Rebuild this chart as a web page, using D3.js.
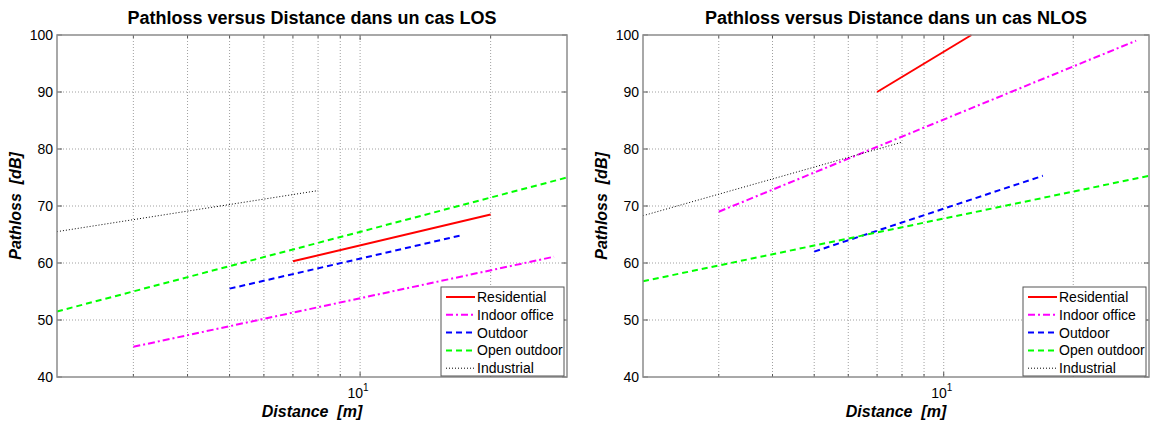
<!DOCTYPE html>
<html>
<head>
<meta charset="utf-8">
<script src="https://cdn.jsdelivr.net/npm/d3@7"></script>
<style>
  body { margin: 0; background: #fff; }
  svg { font-family: "Liberation Sans", Arial, sans-serif; }
</style>
</head>
<body>
<script>
const width = 1150;
const height = 425;

// chart values
const categories = ["Residential", "Indoor office", "Outdoor", "Open outdoor", "Industrial"];
const distStart = [7, 3, 5, 2, 2];
const distEnd = [20, 28, 17, 30, 8];
const losStart = [60.3, 45.3, 55.5, 51.5, 65.5];
const losEnd = [68.5, 61.1, 64.8, 75.0, 72.7];
// NLOS residential leaves the plot at the top, last visible point
const nlosDistEnd = [11.6, 28, 17, 30, 8];
const nlosStart = [90.0, 69.0, 62.0, 56.8, 68.3];
const nlosEnd = [100.0, 99.0, 75.3, 75.3, 81.2];

const yTicks = [40, 50, 60, 70, 80, 90, 100];
const xMinor = [3, 4, 5, 6, 7, 8, 9, 10, 20];

const colors = ["#ff0000", "#ff00ff", "#0000ff", "#00ff00", "#000000"];
const dashes = [null, "7,3,2,3", "6,4", "6,4", "1,2"];
const widths = [2, 2, 2, 2, 1];

const panels = [
  {title: "Pathloss versus Distance dans un cas LOS", x0: 57, x1: 567,
   start: losStart, end: losEnd, dEnd: distEnd},
  {title: "Pathloss versus Distance dans un cas NLOS", x0: 643, x1: 1149,
   start: nlosStart, end: nlosEnd, dEnd: nlosDistEnd}
];

const yTop = 35, yBottom = 377;

const svg = d3.select("body").append("svg")
  .attr("width", width)
  .attr("height", height);

panels.forEach((p, pi) => {
  const x = d3.scaleLog().domain([2, 30]).range([p.x0, p.x1]);
  const y = d3.scaleLinear().domain([40, 100]).range([yBottom, yTop]);
  const g = svg.append("g");

  // grid
  g.selectAll(".vgrid").data(xMinor).enter().append("line")
    .attr("x1", d => x(d)).attr("x2", d => x(d))
    .attr("y1", yTop).attr("y2", yBottom)
    .attr("stroke", "#a0a0a0").attr("stroke-width", 1)
    .attr("stroke-dasharray", "1,2");
  g.selectAll(".hgrid").data(yTicks.slice(1, -1)).enter().append("line")
    .attr("x1", p.x0).attr("x2", p.x1)
    .attr("y1", d => y(d)).attr("y2", d => y(d))
    .attr("stroke", "#a0a0a0").attr("stroke-width", 1)
    .attr("stroke-dasharray", "1,2");

  // tick marks, both sides
  yTicks.forEach(t => {
    g.append("line").attr("x1", p.x0).attr("x2", p.x0 + 5)
      .attr("y1", y(t)).attr("y2", y(t)).attr("stroke", "#555");
    g.append("line").attr("x1", p.x1).attr("x2", p.x1 - 5)
      .attr("y1", y(t)).attr("y2", y(t)).attr("stroke", "#555");
  });
  xMinor.forEach(t => {
    const len = t === 10 ? 5 : 3;
    g.append("line").attr("x1", x(t)).attr("x2", x(t))
      .attr("y1", yBottom).attr("y2", yBottom - len).attr("stroke", "#555");
    g.append("line").attr("x1", x(t)).attr("x2", x(t))
      .attr("y1", yTop).attr("y2", yTop + len).attr("stroke", "#555");
  });

  // data lines
  const line = d3.line().x(d => x(d[0])).y(d => y(d[1]));
  categories.forEach((c, i) => {
    g.append("path")
      .datum([[distStart[i], p.start[i]], [p.dEnd[i], p.end[i]]])
      .attr("d", line)
      .attr("fill", "none")
      .attr("stroke", colors[i])
      .attr("stroke-width", widths[i])
      .attr("stroke-dasharray", dashes[i]);
  });

  // axes box
  g.append("rect")
    .attr("x", p.x0).attr("y", yTop)
    .attr("width", p.x1 - p.x0).attr("height", yBottom - yTop)
    .attr("fill", "none").attr("stroke", "#8c8c8c").attr("stroke-width", 1.5);

  // y tick labels
  g.selectAll(".ylab").data(yTicks).enter().append("text")
    .attr("x", p.x0 - 4).attr("y", d => y(d) + 5)
    .attr("text-anchor", "end").attr("font-size", 14)
    .text(d => d);

  // x tick label 10^1
  const xl = g.append("text").attr("x", x(10) - 2).attr("y", 398)
    .attr("text-anchor", "middle").attr("font-size", 14);
  xl.append("tspan").text("10");
  xl.append("tspan").attr("dy", -7).attr("font-size", 10).text("1");

  const cx = (p.x0 + p.x1) / 2;
  g.append("text").attr("x", cx).attr("y", 24)
    .attr("text-anchor", "middle").attr("font-size", 18).attr("font-weight", "bold")
    .text(p.title);
  g.append("text").attr("x", cx).attr("y", 417)
    .attr("text-anchor", "middle").attr("font-size", 16)
    .attr("font-weight", "bold").attr("font-style", "italic")
    .attr("xml:space", "preserve")
    .text("Distance  [m]");
  g.append("text")
    .attr("transform", `translate(${p.x0 - 36},${(yTop + yBottom) / 2}) rotate(-90)`)
    .attr("text-anchor", "middle").attr("font-size", 16)
    .attr("font-weight", "bold").attr("font-style", "italic")
    .attr("xml:space", "preserve")
    .text("Pathloss  [dB]");

  // legend
  const lw = 123, lh = 89;
  const lx = p.x1 - lw - 3, ly = 287;
  const leg = g.append("g").attr("transform", `translate(${lx},${ly})`);
  leg.append("rect").attr("width", lw).attr("height", lh)
    .attr("fill", "#fff").attr("stroke", "#555").attr("stroke-width", 1);
  categories.forEach((c, i) => {
    const yy = 10 + i * 17.8;
    leg.append("line").attr("x1", 5).attr("x2", 34)
      .attr("y1", yy).attr("y2", yy)
      .attr("stroke", colors[i]).attr("stroke-width", widths[i])
      .attr("stroke-dasharray", dashes[i]);
    leg.append("text").attr("x", 36).attr("y", yy + 5)
      .attr("font-size", 14).text(c);
  });
});
</script>
</body>
</html>
